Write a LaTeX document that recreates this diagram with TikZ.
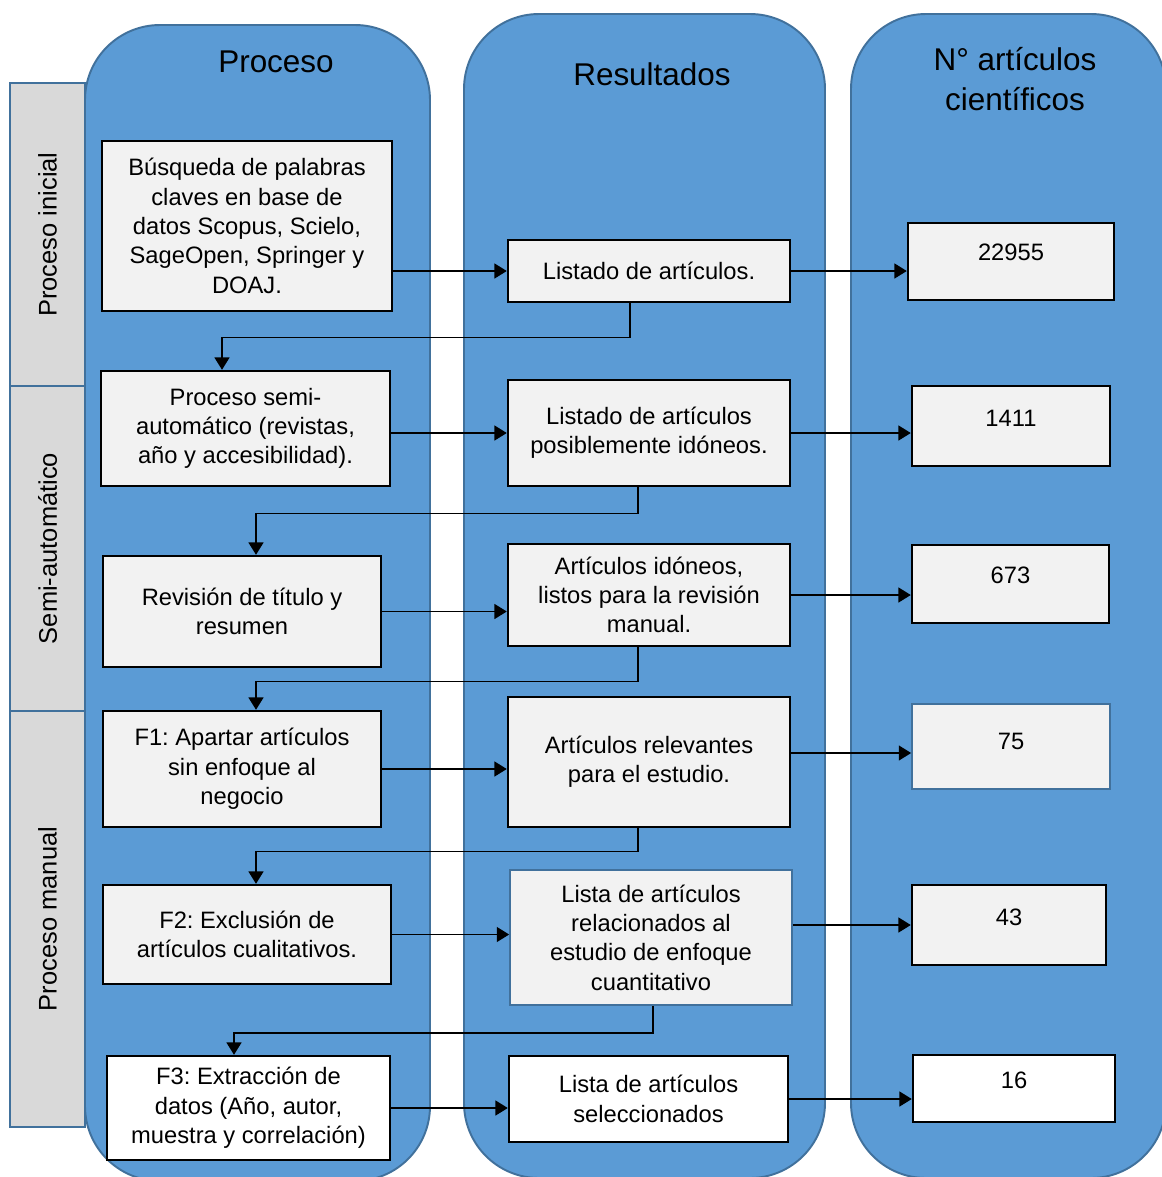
\documentclass[tikz,border=0pt]{standalone}
\usepackage{fontspec}
\setmainfont{Liberation Sans}
\frenchspacing
\definecolor{carril}{RGB}{91, 155, 213}
\definecolor{bordeazul}{RGB}{65, 113, 156}
\definecolor{cajagris}{RGB}{242, 242, 242}
\definecolor{franja}{RGB}{217, 217, 217}
\usetikzlibrary{arrows.meta, positioning, calc}
\newcommand{\textocaja}{\fontsize{13.5}{16.7}\selectfont}
\newcommand{\textotitulo}{\fontsize{17.9}{22.7}\selectfont}
\newcommand{\textofase}{\fontsize{14.5}{17}\selectfont}

\tikzset{
  carrilfondo/.style={fill=carril, draw=bordeazul, line width=1.1pt, rounded corners=1.5cm},
  fase/.style={draw=bordeazul, fill=franja, line width=1.1pt, rotate=90, minimum height=1.5cm, inner sep=0pt, font=\textofase},
  titulo/.style={align=center, font=\textotitulo},
  caja/.style={draw=black, fill=cajagris, line width=1.4pt, align=center, inner sep=2pt, font=\textocaja},
  cajablanca/.style={caja, fill=white},
  cajafina/.style={caja, draw=bordeazul, line width=1pt},
  cifra/.style={inner ysep=0pt, text depth=0.79cm},
  flecha/.style={draw=black, line width=0.8pt, -{Triangle[length=7pt, width=8.5pt]}}
}

\begin{document}
\begin{tikzpicture}
  \useasboundingbox (0,0) rectangle (23.24,-23.54);
  \fill[white] (0,0) rectangle (23.24,-23.54);

  % Carriles
  \begin{scope}
    \clip (0,0) rectangle (23.24,-23.54);
    \draw[carrilfondo] (1.70,-0.50) rectangle (8.60,-23.62);
    \draw[carrilfondo] (9.28,-0.28) rectangle (16.50,-23.56);
    \draw[carrilfondo] (17.02,-0.28) rectangle (23.32,-23.56);
  \end{scope}

  % Fases
  \node[fase, minimum width=6.06cm] (faseA) at (0.95,-4.69) {Proceso inicial};
  \node[fase, minimum width=6.50cm] (faseB) at (0.95,-10.97) {Semi-automático};
  \node[fase, minimum width=8.32cm] (faseC) at (0.95,-18.38) {Proceso manual};

  % Encabezados
  \node[titulo] (tProceso) at (5.52,-1.24) {Proceso};
  \node[titulo] (tResultados) at (13.04,-1.48) {Resultados};
  \node[titulo] (tArticulos) at (20.30,-1.58) {N° artículos\\científicos};

  % Proceso
  \node[caja, minimum width=5.80cm, minimum height=3.40cm] (P1) at (4.94,-4.52) {Búsqueda de palabras\\claves en base de\\datos Scopus, Scielo,\\SageOpen, Springer y\\DOAJ.};
  \node[caja, minimum width=5.78cm, minimum height=2.30cm] (P2) at (4.91,-8.57) {Proceso semi-\\automático (revistas,\\año y accesibilidad).};
  \node[caja, minimum width=5.56cm, minimum height=2.22cm] (P3) at (4.84,-12.23) {Revisión de título y\\resumen};
  \node[caja, minimum width=5.56cm, minimum height=2.32cm] (P4) at (4.84,-15.38) {F1: Apartar artículos\\sin enfoque al\\negocio};
  \node[caja, minimum width=5.76cm, minimum height=1.98cm] (P5) at (4.94,-18.69) {F2: Exclusión de\\artículos cualitativos.};
  \node[cajablanca, minimum width=5.66cm, minimum height=2.08cm] (P6) at (4.97,-22.16) {F3: Extracción de\\datos (Año, autor,\\muestra y correlación)};

  % Resultados
  \node[caja, minimum width=5.64cm, minimum height=1.24cm] (R1) at (12.98,-5.42) {Listado de artículos.};
  \node[caja, minimum width=5.64cm, minimum height=2.12cm] (R2) at (12.98,-8.66) {Listado de artículos\\posiblemente idóneos.};
  \node[caja, minimum width=5.64cm, minimum height=2.04cm] (R3) at (12.98,-11.90) {Artículos idóneos,\\listos para la revisión\\manual.};
  \node[caja, minimum width=5.64cm, minimum height=2.60cm] (R4) at (12.98,-15.24) {Artículos relevantes\\para el estudio.};
  \node[cajafina, minimum width=5.64cm, minimum height=2.70cm] (R5) at (13.02,-18.75) {Lista de artículos\\relacionados al\\estudio de enfoque\\cuantitativo};
  \node[cajablanca, minimum width=5.58cm, minimum height=1.72cm] (R6) at (12.97,-21.98) {Lista de artículos\\seleccionados};

  % Numero de articulos
  \node[caja, cifra, minimum width=4.12cm, text height=0.75cm] (C1) at (20.22,-5.23) {22955};
  \node[caja, cifra, minimum width=3.96cm, text height=0.81cm] (C2) at (20.22,-8.52) {1411};
  \node[caja, cifra, minimum width=3.94cm, text height=0.77cm] (C3) at (20.21,-11.68) {673};
  \node[cajafina, cifra, minimum width=3.96cm, text height=0.91cm] (C4) at (20.22,-14.93) {75};
  \node[caja, cifra, minimum width=3.88cm, text height=0.81cm] (C5) at (20.18,-18.50) {43};
  \node[cajablanca, cifra, minimum width=4.04cm, text height=0.67cm, text depth=0.67cm] (C6) at (20.28,-21.77) {16};

  % Flechas horizontales
  \coordinate (c4in) at ($(C4.west)+(0,-0.13)$);
  \draw[flecha] (P1.east |- R1.west) -- (R1.west);
  \draw[flecha] (R1.east) -- (C1.west |- R1.east);
  \draw[flecha] (P2.east |- R2.west) -- (R2.west);
  \draw[flecha] (R2.east) -- (C2.west |- R2.east);
  \draw[flecha] (P3.east) -- (R3.west |- P3.east);
  \draw[flecha] (R3.east) -- (C3.west |- R3.east);
  \draw[flecha] (P4.east) -- (R4.west |- P4.east);
  \draw[flecha] (R4.east |- c4in) -- (c4in);
  \draw[flecha] (P5.east) -- (R5.west |- P5.east);
  \draw[flecha] (R5.east |- C5.west) -- (C5.west);
  \draw[flecha] (P6.east) -- (R6.west |- P6.east);
  \draw[flecha] (R6.east) -- (C6.west |- R6.east);

  % Retornos
  \draw[flecha] ($(R1.south)+(-0.38,0)$) -- ++(0,-0.68) -| ($(P2.north)+(-0.47,0)$);
  \draw[flecha] ($(R2.south)+(-0.22,0)$) -- ++(0,-0.52) -| ($(P3.north)+(0.28,0)$);
  \draw[flecha] ($(R3.south)+(-0.22,0)$) -- ++(0,-0.68) -| ($(P4.north)+(0.28,0)$);
  \draw[flecha] ($(R4.south)+(-0.22,0)$) -- ++(0,-0.46) -| ($(P5.north)+(0.18,0)$);
  \draw[flecha] ($(R5.south)+(0.04,0)$) -- ++(0,-0.54) -| ($(P6.north)+(-0.29,0)$);
\end{tikzpicture}
\end{document}
